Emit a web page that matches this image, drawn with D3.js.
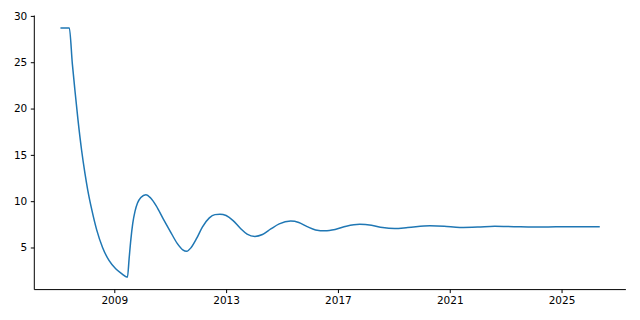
<!DOCTYPE html>
<html>
<head>
<meta charset="utf-8">
<script src="https://cdn.jsdelivr.net/npm/d3@7"></script>
<style>
  html, body { margin: 0; padding: 0; background: #ffffff; }
  svg { display: block; }
  text { font-family: "DejaVu Sans", sans-serif; }
</style>
</head>
<body>
<div id="chart"></div>
<script>
// ---- data ----
const years = [
  2007.10, 2007.39, 2007.50, 2007.59, 2007.70, 2007.83, 2007.95, 2008.05, 2008.20, 2008.37,
  2008.58, 2008.81, 2009.05, 2009.25, 2009.47, 2009.53, 2009.59, 2009.66, 2009.74, 2009.83,
  2009.95, 2010.13, 2010.30, 2010.50, 2010.75, 2011.00, 2011.25, 2011.45, 2011.59, 2011.75,
  2011.95, 2012.15, 2012.40, 2012.60, 2012.78, 2013.00, 2013.25, 2013.50, 2013.75, 2014.03,
  2014.30, 2014.60, 2014.90, 2015.31, 2015.60, 2015.90, 2016.20, 2016.54, 2016.90, 2017.30,
  2017.78, 2018.20, 2018.60, 2019.03, 2019.50, 2020.29, 2020.80, 2021.36, 2022.00, 2022.61,
  2023.30, 2024.00, 2024.80, 2025.50, 2026.34
];
const values = [
  28.7, 28.7, 24.8, 22.0, 18.8, 15.5, 13.0, 11.2, 9.0, 6.9,
  5.0, 3.6, 2.7, 2.2, 1.8, 3.8, 5.8, 7.6, 8.9, 9.8,
  10.4, 10.7, 10.35, 9.5, 8.1, 6.75, 5.45, 4.75, 4.6, 5.0,
  6.0, 7.2, 8.2, 8.55, 8.6, 8.45, 7.9, 7.1, 6.45, 6.2,
  6.4, 7.0, 7.55, 7.85, 7.7, 7.25, 6.9, 6.8, 6.95, 7.3,
  7.5, 7.4, 7.15, 7.05, 7.15, 7.35, 7.3, 7.15, 7.2, 7.3,
  7.25, 7.2, 7.25, 7.25, 7.25
];
const xTickValues = [2009, 2013, 2017, 2021, 2025];
const yTickValues = [5, 10, 15, 20, 25, 30];

// ---- layout ----
const W = 640, H = 320;
const plot = { left: 34.3, right: 625.9, top: 15.5, bottom: 289.6 };

const data = years.map((y, i) => ({ t: y, v: values[i] }));

const xExt = d3.extent(years);
const xPad = (xExt[1] - xExt[0]) * 0.05;
const yExt = d3.extent(values);
const yPad = (yExt[1] - yExt[0]) * 0.05;

const x = d3.scaleLinear().domain([xExt[0] - xPad, xExt[1] + xPad]).range([plot.left, plot.right]);
const y = d3.scaleLinear().domain([yExt[0] - yPad, yExt[1] + yPad]).range([plot.bottom, plot.top]);

const svg = d3.select("#chart").append("svg").attr("width", W).attr("height", H);

// line
svg.append("path")
  .datum(data)
  .attr("fill", "none")
  .attr("stroke", "#1f77b4")
  .attr("stroke-width", 1.5)
  .attr("stroke-linejoin", "round")
  .attr("stroke-linecap", "square")
  .attr("d", d3.line().x(d => x(d.t)).y(d => y(d.v)).curve(d3.curveMonotoneX));

// axes
const xAxis = d3.axisBottom(x).tickValues(xTickValues).tickFormat(d3.format("d")).tickSizeOuter(0).tickSize(3.5).tickPadding(3.5);
const yAxis = d3.axisLeft(y).tickValues(yTickValues).tickFormat(d3.format("d")).tickSizeOuter(0).tickSize(3.5).tickPadding(3.5);

const gx = svg.append("g").attr("transform", `translate(0,${plot.bottom})`).call(xAxis);
const gy = svg.append("g").attr("transform", `translate(${plot.left},0)`).call(yAxis);

[gx, gy].forEach(g => {
  g.select(".domain").attr("stroke", "#000").attr("stroke-width", 1);
  g.selectAll(".tick line").attr("stroke", "#000").attr("stroke-width", 1);
  g.selectAll(".tick text").attr("fill", "#000").attr("font-size", "10.5px").attr("font-family", "DejaVu Sans, sans-serif");
});
gx.select(".domain").attr("d", `M${plot.left},0H${plot.right}`);
gy.select(".domain").attr("d", `M0,${plot.bottom}V${plot.top}`);
</script>
</body>
</html>
